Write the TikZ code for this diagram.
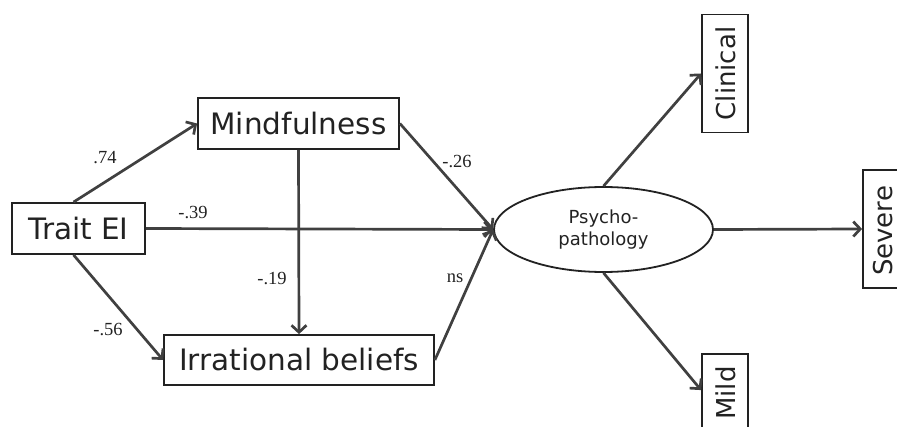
\documentclass[tikz,border=0pt]{standalone}
\usepackage{fontspec}
\setmainfont{Liberation Serif}
\newfontfamily\boxfont{DejaVu Sans}
\usetikzlibrary{arrows.meta,shapes.geometric}
\definecolor{linegray}{HTML}{404040}
\definecolor{textgray}{HTML}{222222}
\tikzset{
  box/.style={draw=textgray, line width=1.8pt, inner sep=0pt, text=textgray, font=\boxfont\fontsize{29.5}{32}\selectfont},
  vbox/.style={draw=textgray, line width=1.8pt, inner sep=0pt, minimum width=46pt, minimum height=118pt},
  vtext/.style={inner sep=0pt, text=textgray, font=\boxfont\fontsize{26}{30}\selectfont},
  conn/.style={draw=linegray, line width=2.7pt, -{Straight Barb[length=7pt,width=15pt,line width=2.7pt]}},
  coef/.style={text=textgray, font=\fontsize{18.5}{20}\selectfont, inner sep=0pt}
}
\begin{document}
\begin{tikzpicture}[x=1pt,y=-1pt]
\useasboundingbox (0,0) rectangle (897,427);
\node[box, minimum width=133pt, minimum height=51pt] (trait) at (78.5,228.5) {Trait EI};
\node[box, minimum width=201pt, minimum height=51pt] (mind) at (298.5,123.5) {Mindfulness};
\node[box, minimum width=270pt, minimum height=50pt] (irr) at (299,360) {Irrational beliefs};
\node[ellipse, draw=textgray, line width=1.8pt, minimum width=219pt, minimum height=85pt, inner sep=0pt, text=textgray, align=center, font=\boxfont\fontsize{18}{22}\selectfont] (psy) at (603.5,229.5) {Psycho-\\pathology};
\node[vbox] (clin) at (725,73.5) {};
\node[vtext] (clintext) at (726,73.5) {\rotatebox{90}{Clinical}};
\node[vbox] (sev) at (886,229) {};
\node[vtext] (sevtext) at (883.5,231) {\rotatebox{90}{Severe}};
\node[vbox] (mild) at (725,413) {};
\node[vtext] (mildtext) at (726,393) {\rotatebox{90}{Mild}};

\draw[conn] ([xshift=-5pt]trait.north) -- (mind.west);
\draw[conn] ([xshift=-5pt]trait.south) -- (irr.west);
\draw[conn] (trait.east) -- (psy.west);
\draw[conn] (mind.south) -- (irr.north);
\draw[conn] (mind.east) -- (psy.west);
\draw[conn] (irr.east) -- (psy.west);
\draw[conn] (psy.north) -- (clin.west);
\draw[conn] (psy.east) -- (sev.west);
\draw[conn] (psy.south) -- ([yshift=-37pt]mild.north west);

\node[coef] (l74) at (105,158) {.74};
\node[coef] (l39) at (193,213) {-.39};
\node[coef] (l56) at (108,330) {-.56};
\node[coef] (l19) at (272,279) {-.19};
\node[coef] (l26) at (457,162) {-.26};
\node[coef] (lns) at (455,278) {ns};
\end{tikzpicture}
\end{document}
